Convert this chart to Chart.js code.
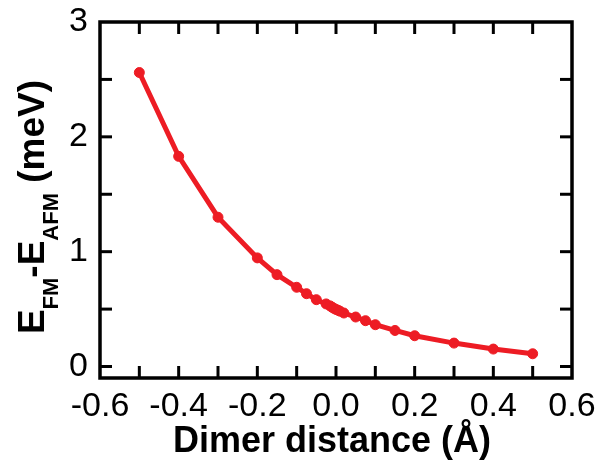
<!DOCTYPE html>
<html>
<head>
<meta charset="utf-8">
<script src="https://cdn.jsdelivr.net/npm/chart.js@4.4.1/dist/chart.umd.min.js"></script>
<style>
  html, body { margin: 0; padding: 0; background: #fff; }
  #wrap { width: 610px; height: 460px; }
</style>
</head>
<body>
<div id="wrap"><canvas id="chart"></canvas></div>
<script>
// Waarden
const dimerDistance = [-0.5, -0.4, -0.3, -0.2, -0.15, -0.1, -0.075, -0.05,
  -0.025, -0.015, -0.01, -0.005, 0, 0.005, 0.01, 0.02,
  0.05, 0.075, 0.1, 0.15, 0.2, 0.3, 0.4, 0.5];
const energyDiff = [2.56, 1.83, 1.30, 0.946, 0.80, 0.69, 0.634, 0.582,
  0.545, 0.528, 0.516, 0.506, 0.497, 0.49, 0.482, 0.466,
  0.431, 0.399, 0.364, 0.314, 0.268, 0.204, 0.152, 0.111];
const xTickValues = [-0.6, -0.5, -0.4, -0.3, -0.2, -0.1, 0, 0.1, 0.2, 0.3, 0.4, 0.5, 0.6];
const yTickValues = [0, 0.5, 1, 1.5, 2, 2.5, 3];

const red = '#ed1c24';
const tickFont = { family: 'Liberation Sans', size: 34 };

function tickLine(c, x1, y1, x2, y2) {
  c.beginPath();
  c.moveTo(x1, y1);
  c.lineTo(x2, y2);
  c.stroke();
}

// Kader, binnenste tickjes en astitels
const framePlugin = {
  id: 'frame',
  afterDraw(chart) {
    const c = chart.ctx;
    const a = chart.chartArea;
    const xs = chart.scales.x, ys = chart.scales.y;
    const len = 12;
    c.save();
    c.strokeStyle = '#000000';
    c.lineWidth = 3;
    for (let i = 1; i < xTickValues.length - 1; i++) {
      const px = xs.getPixelForValue(xTickValues[i]);
      tickLine(c, px, a.bottom, px, a.bottom - len);
      tickLine(c, px, a.top, px, a.top + len);
    }
    for (let i = 0; i < yTickValues.length - 1; i++) {
      const py = ys.getPixelForValue(yTickValues[i]);
      tickLine(c, a.left, py, a.left + len, py);
      tickLine(c, a.right, py, a.right - len, py);
    }
    c.lineWidth = 3.5;
    c.strokeRect(a.left, a.top, a.right - a.left, a.bottom - a.top);

    // x-as titel
    c.fillStyle = '#000';
    c.font = 'bold 36px "Liberation Sans"';
    c.textAlign = 'center';
    c.textBaseline = 'alphabetic';
    c.fillText('Dimer distance (Å)', 332, 452);

    // y-as titel met subscripts
    const big = 'bold 37px "Liberation Sans"';
    const small = 'bold 22px "Liberation Sans"';
    const parts = [['E', big, 0], ['FM', small, 14], ['-E', big, 0], ['AFM', small, 14], [' (meV)', big, 0]];
    let total = 0;
    parts.forEach(p => { c.font = p[1]; total += c.measureText(p[0]).width; });
    c.translate(44, 207);
    c.rotate(-Math.PI / 2);
    c.textAlign = 'left';
    let x = -total / 2;
    parts.forEach(p => {
      c.font = p[1];
      c.fillText(p[0], x, p[2]);
      x += c.measureText(p[0]).width;
    });
    c.restore();
  }
};

const ctx = document.getElementById('chart').getContext('2d');
const chart = new Chart(ctx, {
  type: 'line',
  data: {
    datasets: [{
      data: dimerDistance.map((d, i) => ({ x: d, y: energyDiff[i] })),
      borderColor: red,
      backgroundColor: red,
      borderWidth: 5,
      pointRadius: 5,
      pointBackgroundColor: red,
      pointBorderColor: red,
      pointBorderWidth: 1,
      tension: 0,
      fill: false
    }]
  },
  options: {
    responsive: true,
    maintainAspectRatio: false,
    animation: false,
    layout: { padding: { left: 0, right: 38, top: 22, bottom: 0 } },
    plugins: { legend: { display: false }, tooltip: { enabled: false } },
    scales: {
      x: {
        type: 'linear',
        min: -0.6,
        max: 0.6,
        grid: { display: false, drawTicks: false },
        border: { display: false },
        afterBuildTicks: s => { s.ticks = xTickValues.map(v => ({ value: v })); },
        afterFit: s => { s.height = 82; s.paddingLeft = 0; s.paddingRight = 0; },
        ticks: {
          font: tickFont,
          color: '#000',
          padding: 8,
          maxRotation: 0,
          autoSkip: false,
          callback: (v, i) => (i % 2 === 0 ? v.toFixed(1) : '')
        }
      },
      y: {
        type: 'linear',
        min: -0.1,
        max: 3,
        grid: { display: false, drawTicks: false },
        border: { display: false },
        afterBuildTicks: s => { s.ticks = yTickValues.map(v => ({ value: v })); },
        afterFit: s => { s.width = 100; s.paddingTop = 0; s.paddingBottom = 0; },
        ticks: {
          font: tickFont,
          color: '#000',
          padding: 12,
          autoSkip: false,
          callback: v => (Number.isInteger(v) ? String(v) : '')
        }
      }
    }
  },
  plugins: [framePlugin]
});
</script>
</body>
</html>
